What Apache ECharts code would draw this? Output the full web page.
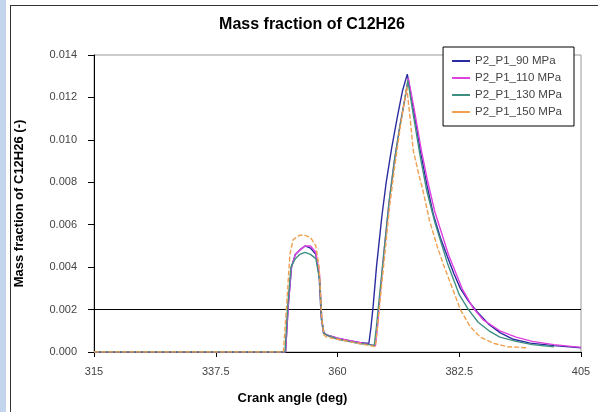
<!DOCTYPE html>
<html><head><meta charset="utf-8">
<script src="https://cdn.jsdelivr.net/npm/echarts@6/dist/echarts.min.js"></script>
<style>html,body{margin:0;padding:0;background:#fff}#c{width:598px;height:412px}</style>
</head><body><div id="c"></div>
<script>
const seriesNames = ['P2_P1_90 MPa', 'P2_P1_110 MPa', 'P2_P1_130 MPa', 'P2_P1_150 MPa'];
const xTicks = [315, 337.5, 360, 382.5, 405];
const yTicks = [0, 0.002, 0.004, 0.006, 0.008, 0.010, 0.012, 0.014];
const refLineValue = 0.002;

const angle90 = [315, 350.4, 350.9, 351.5, 352.2, 353, 354, 355, 356, 356.6, 357.0, 357.4, 358, 360, 362, 364, 365.8, 366.2, 366.6, 367.2, 368.2, 369, 370, 371, 372, 372.9, 374, 375.3, 376.5, 377.7, 379, 380.3, 381.5, 382.7, 384.2, 385.8, 388, 390.1, 392.5, 395.6, 400, 405];
const frac90 = [0, 0, 0.0022, 0.0040, 0.0046, 0.0048, 0.0050, 0.0049, 0.0046, 0.0036, 0.0016, 0.0009, 0.0008, 0.00065, 0.00055, 0.00045, 0.0004, 0.0012, 0.0022, 0.0040, 0.0064, 0.0080, 0.0096, 0.0110, 0.0123, 0.0131, 0.0115, 0.0095, 0.0079, 0.0065, 0.0054, 0.0045, 0.0037, 0.0030, 0.0024, 0.0019, 0.0013, 0.0009, 0.0006, 0.00042, 0.0003, 0.0002];

const angle110 = [315, 350.4, 350.9, 351.5, 352.2, 353, 354, 355, 356, 356.7, 357.1, 357.5, 358, 360, 362, 364, 366, 367, 367.4, 367.8, 368.5, 369.5, 370.5, 371.5, 372.5, 373.1, 374.2, 375.5, 376.7, 378, 380.5, 383, 385, 387, 390, 393, 396, 400, 405];
const frac110 = [0, 0, 0.0022, 0.0040, 0.0046, 0.0048, 0.0050, 0.0050, 0.0047, 0.0036, 0.0015, 0.0009, 0.0008, 0.00065, 0.00055, 0.00045, 0.00035, 0.0003, 0.0012, 0.0025, 0.0045, 0.0070, 0.0090, 0.0106, 0.0120, 0.0129, 0.0114, 0.0095, 0.0080, 0.0066, 0.0046, 0.0030, 0.0021, 0.0015, 0.0010, 0.0007, 0.0005, 0.00035, 0.00022];

const angle130 = [315, 350.3, 350.8, 351.4, 352.2, 353, 354, 355, 356, 356.7, 357.1, 357.5, 358, 360, 362, 364, 366, 366.8, 367.2, 367.7, 368.5, 369.5, 370.5, 371.5, 372.5, 373.0, 374.0, 375.3, 376.5, 378, 380.3, 382.5, 384.2, 386, 388, 390, 393, 396, 400];
const frac130 = [0, 0, 0.0022, 0.0040, 0.0044, 0.0046, 0.0047, 0.0046, 0.0044, 0.0034, 0.0015, 0.0009, 0.0008, 0.0006, 0.0005, 0.0004, 0.00035, 0.0003, 0.0012, 0.0025, 0.0045, 0.0070, 0.0090, 0.0106, 0.0120, 0.0128, 0.0112, 0.0092, 0.0076, 0.0061, 0.0042, 0.0027, 0.0020, 0.0014, 0.0010, 0.0007, 0.0005, 0.00035, 0.00025];

const angle150 = [315, 350.0, 350.6, 351.2, 351.8, 353, 354, 355, 356, 356.6, 357.1, 357.5, 358, 360, 362, 364, 366, 367, 367.4, 367.9, 368.7, 369.6, 370.6, 371.6, 372.8, 373.5, 374.0, 375.0, 375.8, 377, 378.4, 379.6, 380.8, 382.7, 384.5, 386.4, 389, 391.4, 395];
const frac150 = [0, 0, 0.0022, 0.0046, 0.0053, 0.0055, 0.0055, 0.0054, 0.0050, 0.0040, 0.0015, 0.0008, 0.0007, 0.0006, 0.0005, 0.0004, 0.0003, 0.00025, 0.0012, 0.0025, 0.0045, 0.0068, 0.0088, 0.0106, 0.0125, 0.0108, 0.0095, 0.0084, 0.0076, 0.0062, 0.0050, 0.0041, 0.0033, 0.0020, 0.0012, 0.0007, 0.0004, 0.00025, 0.0002];

const allAngles = [angle90, angle110, angle130, angle150];
const allFracs = [frac90, frac110, frac130, frac150];
const colors = ['#2b2ba0', '#e040e0', '#3f8f80', '#f0a050'];
const dashes = ['solid', 'solid', 'solid', [5, 2]];

const chart = echarts.init(document.getElementById('c'), null, {renderer: 'canvas'});
const series = seriesNames.map((n, i) => ({
  name: n, type: 'line', showSymbol: false, symbol: 'none',
  data: allAngles[i].map((a, k) => [a, allFracs[i][k]]),
  lineStyle: {color: colors[i], width: 1.4, type: dashes[i]},
  itemStyle: {color: colors[i]},
  z: 3 + i
}));

// only the split line at refLineValue is drawn in black
const splitColors = yTicks.map(t => (Math.abs(t - refLineValue) < 1e-9 ? '#000' : 'rgba(0,0,0,0)'));

chart.setOption({
  animation: false,
  backgroundColor: '#fff',
  title: {text: 'Mass fraction of C12H26', left: 307, top: 12, textAlign: 'center',
    textStyle: {fontFamily: 'Liberation Sans, Arial', fontSize: 16, fontWeight: 'bold', color: '#000'}},
  legend: {
    data: seriesNames, orient: 'vertical', right: 24, top: 47,
    backgroundColor: '#fff', borderColor: '#000', borderWidth: 1,
    padding: [8, 12, 8, 9], itemGap: 5, itemWidth: 18, itemHeight: 2, icon: 'rect',
    textStyle: {fontFamily: 'Liberation Sans, Arial', fontSize: 11.5, color: '#444'}
  },
  grid: {left: 94, right: 17, top: 55, bottom: 60, show: true, borderColor: '#999', borderWidth: 1},
  xAxis: {
    type: 'value', min: 315, max: 405, interval: 22.5,
    name: 'Crank angle (deg)', nameLocation: 'middle', nameGap: 40,
    nameTextStyle: {fontFamily: 'Liberation Sans, Arial', fontSize: 13, fontWeight: 'bold', color: '#000',
      padding: [0, 90, 0, 0]},
    axisLine: {show: true, lineStyle: {color: '#000', width: 1}},
    axisTick: {show: true, inside: false, length: 5, lineStyle: {color: '#000'}},
    axisLabel: {fontFamily: 'Liberation Sans, Arial', fontSize: 11, color: '#444', margin: 14,
      formatter: v => (xTicks.indexOf(v) >= 0 ? String(v) : '')},
    splitLine: {show: false}
  },
  yAxis: {
    type: 'value', min: 0, max: 0.014, interval: 0.002,
    name: 'Mass fraction of C12H26 (-)', nameLocation: 'middle', nameGap: 68, nameRotate: 90,
    nameTextStyle: {fontFamily: 'Liberation Sans, Arial', fontSize: 13, fontWeight: 'bold', color: '#000'},
    axisLine: {show: true, lineStyle: {color: '#000', width: 1}},
    axisTick: {show: true, inside: false, length: 6, lineStyle: {color: '#000'}},
    axisLabel: {fontFamily: 'Liberation Sans, Arial', fontSize: 11, color: '#444', margin: 17,
      formatter: v => v.toFixed(3)},
    splitLine: {show: true, lineStyle: {color: splitColors, width: 1}}
  },
  graphic: [
    {type: 'rect', shape: {x: 0, y: 0, width: 6, height: 412}, style: {fill: '#c3d5ec'}, silent: true},
    {type: 'line', shape: {x1: 10.5, y1: 5, x2: 10.5, y2: 412}, style: {stroke: '#333', lineWidth: 1}, silent: true},
    {type: 'line', shape: {x1: 10, y1: 5.5, x2: 598, y2: 5.5}, style: {stroke: '#333', lineWidth: 1}, silent: true}
  ],
  series: series
});
</script></body></html>
